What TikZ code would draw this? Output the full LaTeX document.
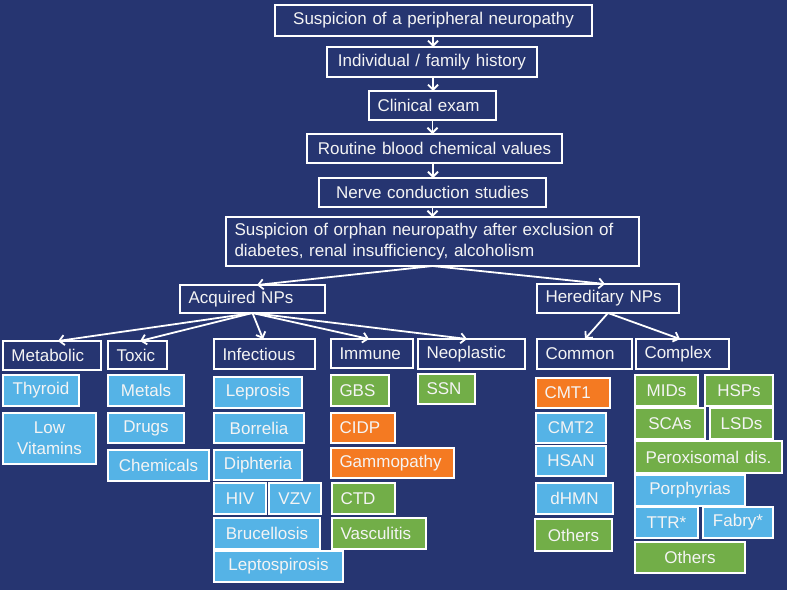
\documentclass[tikz,border=0pt]{standalone}
\usepackage{fontspec}
\setmainfont{Liberation Sans}
\usetikzlibrary{arrows.meta,calc}
\definecolor{bg}{HTML}{263571}
\definecolor{lb}{HTML}{55B3E6}
\definecolor{gr}{HTML}{72AE48}
\definecolor{og}{HTML}{F47A22}
\definecolor{tx}{HTML}{F4F4F4}
\tikzset{
  box/.style={draw=white, line width=1.6pt, text=tx, inner xsep=8.5pt, inner ysep=0pt,
    outer sep=0pt, font=\fontsize{17}{21}\selectfont, align=center},
  lft/.style={align=left},
  lbx/.style={fill=lb},
  gbx/.style={fill=gr},
  obx/.style={fill=og},
  arr/.style={draw=white, line width=1.8pt, -{Straight Barb[length=5pt,width=10pt]}}
}
\newcommand\bx[7]{%
  \pgfmathsetmacro\bxw{#5-#3}%
  \pgfmathsetmacro\bxh{#6-#4}%
  \pgfmathsetmacro\bxt{#5-#3-17}%
  \node[box,#1,minimum width=\bxw pt,minimum height=\bxh pt,text width=\bxt pt,anchor=north west] (#2) at (#3,#4) {#7};}
\begin{document}
\begin{tikzpicture}[x=1pt,y=-1pt]
\fill[bg] (0,0) rectangle (787,590);
\useasboundingbox (0,0) rectangle (787,590);
% main chain
\bx{}{b1}{275}{5}{592}{36}{Suspicion of a peripheral neuropathy}
\bx{}{b2}{327}{47}{537}{77}{Individual / family history}
\bx{lft}{b3}{369}{91}{496}{120}{Clinical exam}
\bx{}{b4}{307}{134}{562}{163}{Routine blood chemical values}
\bx{}{b5}{319}{178}{546}{207}{Nerve conduction studies}
\bx{lft}{b6}{226}{217}{639}{266}{Suspicion of orphan neuropathy after exclusion of\\diabetes, renal insufficiency, alcoholism}
% second level
\bx{lft}{acq}{180}{285}{325}{313}{Acquired NPs}
\bx{lft}{her}{537}{284}{679}{313}{Hereditary NPs}
% third level
\bx{lft}{met}{3}{341}{101}{370}{Metabolic}
\bx{lft}{tox}{108}{341}{167}{369}{Toxic}
\bx{lft}{inf}{214}{339}{315}{369}{Infectious}
\bx{lft}{imm}{331}{339}{413}{368}{Immune}
\bx{lft}{neo}{418}{339}{525}{369}{Neoplastic}
\bx{lft}{com}{537}{339}{632}{369}{Common}
\bx{lft}{cpx}{636}{339}{729}{369}{Complex}
% metabolic
\bx{lbx}{thy}{3}{375}{79}{406}{Thyroid}
\bx{lbx}{lvit}{3}{413}{96}{464}{Low\\Vitamins}
% toxic
\bx{lbx}{mtl}{108}{375}{184}{406}{Metals}
\bx{lbx}{drg}{108}{413}{184}{443}{Drugs}
\bx{lbx}{chm}{108}{450}{209}{481}{Chemicals}
% infectious
\bx{lbx}{lep}{214}{377}{302}{408}{Leprosis}
\bx{lbx}{bor}{214}{413}{304}{443}{Borrelia}
\bx{lbx}{dip}{214}{450}{302}{480}{Diphteria}
\bx{lbx}{hiv}{214}{483}{266}{514}{HIV}
\bx{lbx}{vzv}{269}{483}{321}{514}{VZV}
\bx{lbx}{bru}{214}{518}{320}{549}{Brucellosis}
\bx{lbx}{lpt}{214}{551}{343}{582}{Leptospirosis}
% immune
\bx{gbx,lft}{gbs}{331}{375}{389}{406}{GBS}
\bx{obx,lft}{cidp}{331}{413}{395}{443}{CIDP}
\bx{obx,lft}{gam}{331}{448}{454}{478}{Gammopathy}
\bx{gbx,lft}{ctd}{332}{483}{395}{514}{CTD}
\bx{gbx,lft}{vas}{332}{518}{426}{549}{Vasculitis}
% neoplastic
\bx{gbx,lft}{ssn}{418}{374}{475}{404}{SSN}
% common
\bx{obx,lft}{cmt1}{536}{378}{610}{408}{CMT1}
\bx{lbx}{cmt2}{536}{413}{606}{443}{CMT2}
\bx{lbx}{hsan}{536}{446}{606}{476}{HSAN}
\bx{lbx}{dhmn}{536}{483}{613}{514}{dHMN}
\bx{gbx}{oth1}{535}{519}{612}{551}{Others}
% complex
\bx{gbx}{mid}{635}{375}{698}{406}{MIDs}
\bx{gbx}{hsp}{705}{375}{773}{406}{HSPs}
\bx{gbx}{sca}{635}{408}{705}{439}{SCAs}
\bx{gbx}{lsd}{710}{408}{773}{439}{LSDs}
\bx{gbx}{per}{635}{441}{782}{473}{Peroxisomal dis.}
\bx{lbx}{por}{635}{475}{745}{506}{Porphyrias}
\bx{lbx}{ttr}{635}{507}{698}{538}{TTR*}
\bx{lbx}{fab}{703}{507}{773}{538}{Fabry*}
\bx{gbx}{oth2}{635}{542}{745}{573}{Others}
% arrows main chain
\draw[arr] ([xshift=-0.5pt]b1.south) -- ([xshift=-0.5pt]b1.south |- b2.north);
\draw[arr] ([xshift=1pt]b2.south) -- ([xshift=1pt]b2.south |- b3.north);
\draw[arr] (b3.south) -- (b3.south |- b4.north);
\draw[arr] ([xshift=-1.5pt]b4.south) -- ([xshift=-1.5pt]b4.south |- b5.north);
\draw[arr] (b5.south) -- (b5.south |- b6.north);
% branches
\draw[arr] (b6.south) -- ([xshift=4.5pt]acq.north);
\draw[arr] (b6.south) -- ([xshift=-3pt]her.north);
\draw[arr] (acq.south) -- ([xshift=6pt]met.north);
\draw[arr] (acq.south) -- ([xshift=2.5pt]tox.north);
\draw[arr] (acq.south) -- ([xshift=-1.5pt]inf.north);
\draw[arr] (acq.south) -- ([xshift=-3pt]imm.north);
\draw[arr] (acq.south) -- ([xshift=-4.5pt]neo.north);
\draw[arr] (her.south) -- ([xshift=0.5pt]com.north);
\draw[arr] (her.south) -- ([xshift=-2.5pt]cpx.north);
\end{tikzpicture}
\end{document}
